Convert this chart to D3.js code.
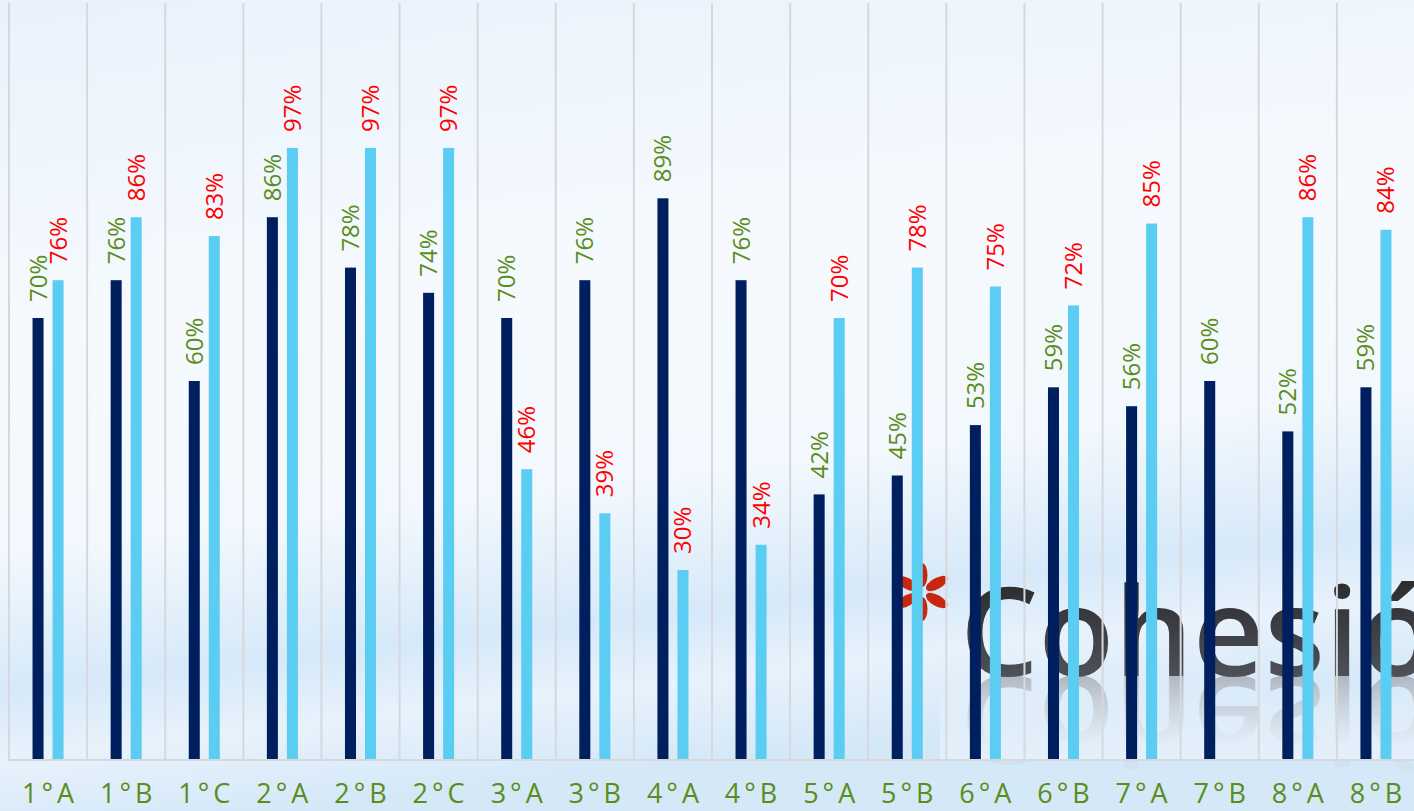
<!DOCTYPE html>
<html>
<head>
  <meta charset="utf-8">
  <title>Grupos</title>
  <script src="https://d3js.org/d3.v7.min.js"></script>
  <style>
    body { margin: 0; overflow: hidden; }
  </style>
</head>
<body>

<script>
const grupos = ['1°A','1°B','1°C','2°A','2°B','2°C','3°A','3°B','4°A','4°B','5°A','5°B','6°A','6°B','7°A','7°B','8°A','8°B'];
const serieOscura = [70, 76, 60, 86, 78, 74, 70, 76, 89, 76, 42, 45, 53, 59, 56, 60, 52, 59];
const serieClara  = [76, 86, 83, 97, 97, 97, 46, 39, 30, 34, 70, 78, 75, 72, 85, null, 86, 84];

const width = 1414;
const height = 811;
const plot = { left: 9, right: 1415, top: 3, bottom: 759 };

const svg = d3.select('body')
  .append('svg')
  .attr('width', width)
  .attr('height', height);

const defs = svg.append('defs');

const bg = defs.append('linearGradient')
  .attr('id', 'bg')
  .attr('x1', 0).attr('y1', 0).attr('x2', 0.2).attr('y2', 1);
bg.append('stop').attr('offset', '0%').attr('stop-color', '#e9f2fc');
bg.append('stop').attr('offset', '40%').attr('stop-color', '#f6fafe');
bg.append('stop').attr('offset', '66%').attr('stop-color', '#f2f8fd');
bg.append('stop').attr('offset', '82%').attr('stop-color', '#d6e9f9');
bg.append('stop').attr('offset', '90%').attr('stop-color', '#e8f2fc');
bg.append('stop').attr('offset', '100%').attr('stop-color', '#d4e8f8');

const logoFill = defs.append('linearGradient')
  .attr('id', 'logoFill')
  .attr('x1', 0).attr('y1', 0).attr('x2', 0).attr('y2', 1);
logoFill.append('stop').attr('offset', '0%').attr('stop-color', '#1e1e1e');
logoFill.append('stop').attr('offset', '100%').attr('stop-color', '#5b5e68');

const reflFill = defs.append('linearGradient')
  .attr('id', 'reflFill')
  .attr('x1', 0).attr('y1', 0).attr('x2', 0).attr('y2', 1);
reflFill.append('stop').attr('offset', '0%').attr('stop-color', '#eef4fb').attr('stop-opacity', 0);
reflFill.append('stop').attr('offset', '55%').attr('stop-color', '#a8acb5').attr('stop-opacity', 0.8);
reflFill.append('stop').attr('offset', '100%').attr('stop-color', '#8f939c').attr('stop-opacity', 1);

svg.append('rect')
  .attr('width', width)
  .attr('height', height)
  .attr('fill', 'url(#bg)');

// watermark "Cohesión"
const logo = svg.append('g');
logo.append('text')
  .attr('transform', 'translate(960,676) scale(1,-1)')
  .attr('font-family', 'Open Sans, sans-serif')
  .attr('font-weight', 600)
  .attr('font-size', 124)
  .attr('fill', 'url(#reflFill)')
  .attr('opacity', 0.75)
  .text('Cohesión');
const fade = defs.append('linearGradient')
  .attr('id', 'fade')
  .attr('x1', 0).attr('y1', 0).attr('x2', 0).attr('y2', 1);
fade.append('stop').attr('offset', '0%').attr('stop-color', '#eef5fc').attr('stop-opacity', 0);
fade.append('stop').attr('offset', '100%').attr('stop-color', '#e4f0fb').attr('stop-opacity', 1);
logo.append('rect')
  .attr('x', 940).attr('y', 676)
  .attr('width', 480).attr('height', 84)
  .attr('fill', 'url(#fade)');
logo.append('text')
  .attr('x', 960)
  .attr('y', 676)
  .attr('font-family', 'Open Sans, sans-serif')
  .attr('font-weight', 600)
  .attr('font-size', 124)
  .attr('fill', 'url(#logoFill)')
  .text('Cohesión');

const star = logo.append('g').attr('transform', 'translate(922,592)');
d3.range(6).forEach(i => {
  star.append('ellipse')
    .attr('cx', 0).attr('cy', -17)
    .attr('rx', 5.5).attr('ry', 12)
    .attr('fill', '#c8260e')
    .attr('transform', `rotate(${i * 60})`);
});

const x = d3.scaleBand()
  .domain(grupos)
  .range([plot.left, plot.right]);

const xSerie = d3.scaleBand()
  .domain(['oscura', 'clara'])
  .range([0, x.bandwidth()])
  .paddingInner(0.45)
  .paddingOuter(1.175);

const y = d3.scaleLinear()
  .domain([0, 100])
  .range([plot.bottom, plot.bottom - 630]);

// vertical gridlines
const bordes = d3.range(grupos.length + 1).map(i => plot.left + x.step() * i);
svg.append('g')
  .selectAll('line')
  .data(bordes)
  .join('line')
  .attr('x1', d => d)
  .attr('x2', d => d)
  .attr('y1', plot.top)
  .attr('y2', plot.bottom)
  .attr('stroke', '#d6d8db')
  .attr('stroke-width', 2);

// baseline
svg.append('line')
  .attr('x1', plot.left - 1).attr('x2', width)
  .attr('y1', plot.bottom + 1).attr('y2', plot.bottom + 1)
  .attr('stroke', '#d6d8db')
  .attr('stroke-width', 2);

const filas = grupos.map((g, i) => ({ g, oscura: serieOscura[i], clara: serieClara[i] }));

const series = [
  { key: 'oscura', color: '#001f5e', label: '#5a8d1b' },
  { key: 'clara', color: '#5ccdf2', label: '#ff0000' }
];

series.forEach(s => {
  const datos = filas.filter(d => d[s.key] != null);
  svg.append('g')
    .selectAll('rect')
    .data(datos)
    .join('rect')
    .attr('x', d => x(d.g) + xSerie(s.key))
    .attr('y', d => y(d[s.key]))
    .attr('width', xSerie.bandwidth())
    .attr('height', d => y(0) - y(d[s.key]))
    .attr('fill', s.color);

  svg.append('g')
    .selectAll('text')
    .data(datos)
    .join('text')
    .attr('transform', d => {
      const cx = x(d.g) + xSerie(s.key) + xSerie.bandwidth() / 2 + 8.5;
      return `translate(${cx},${y(d[s.key]) - 16}) rotate(-90)`;
    })
    .attr('font-family', 'Open Sans, sans-serif')
    .attr('font-size', 24)
    .attr('fill', s.label)
    .text(d => d[s.key] + '%');
});

// category labels
svg.append('g')
  .selectAll('text')
  .data(grupos)
  .join('text')
  .attr('x', d => x(d) + x.bandwidth() / 2 + 2)
  .attr('y', 803)
  .attr('text-anchor', 'middle')
  .attr('font-family', 'Open Sans, sans-serif')
  .attr('font-size', 27)
  .attr('letter-spacing', 4)
  .attr('fill', '#5a8d1b')
  .text(d => d);
</script>

</body>
</html>
